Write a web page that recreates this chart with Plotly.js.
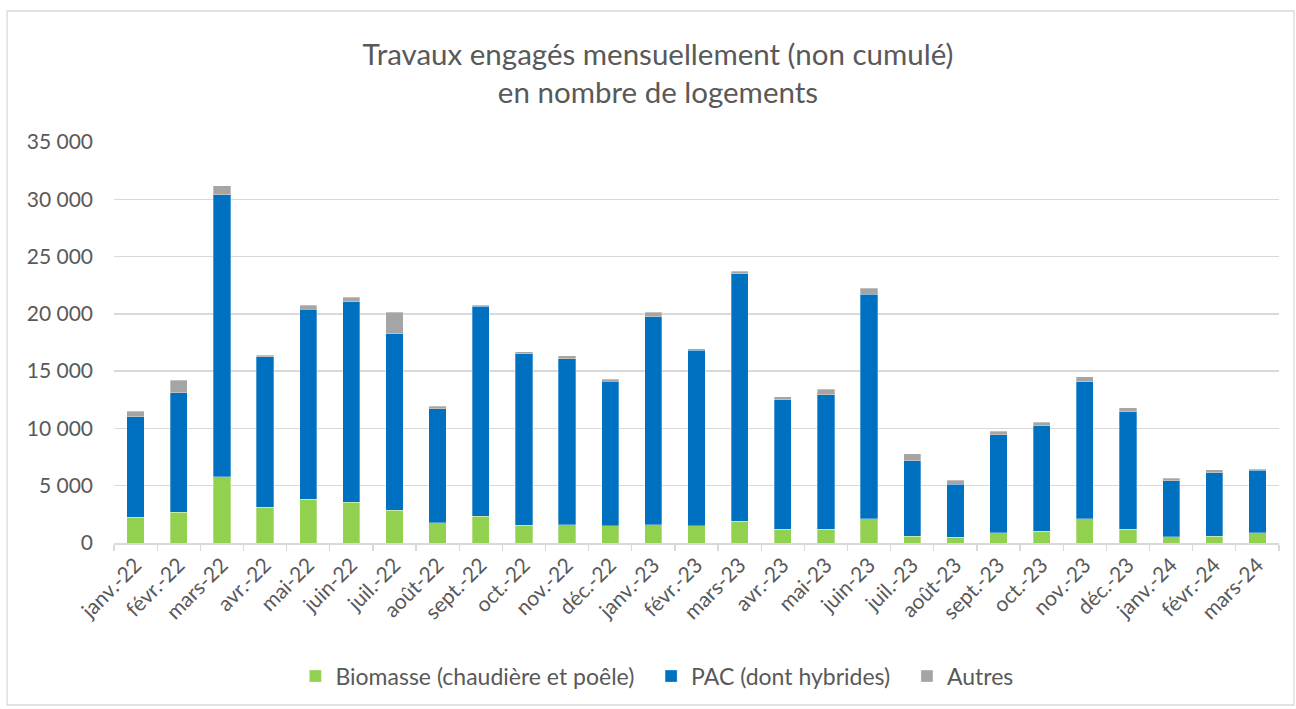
<!DOCTYPE html>
<html>
<head>
<meta charset="utf-8">
<script src="https://cdn.plot.ly/plotly-3.0.1.min.js"></script>
<style>
html,body{margin:0;padding:0;background:#fff;}
#chart{width:1296px;height:709px;}
</style>
</head>
<body>
<div id="chart"></div>
<script>
const months = ["janv.-22","févr.-22","mars-22","avr.-22","mai-22","juin-22","juil.-22","août-22","sept.-22","oct.-22","nov.-22","déc.-22",
  "janv.-23","févr.-23","mars-23","avr.-23","mai-23","juin-23","juil.-23","août-23","sept.-23","oct.-23","nov.-23","déc.-23",
  "janv.-24","févr.-24","mars-24"];
const biomasse = [2250,2700,5800,3100,3800,3550,2850,1750,2350,1550,1600,1520,1600,1490,1900,1200,1200,2130,610,500,900,1020,2100,1200,550,580,900];
const pac      = [8750,10400,24600,13150,16600,17500,15400,9970,18300,14950,14500,12600,18150,15350,21600,11300,11750,19560,6560,4630,8540,9210,11980,10260,4870,5540,5450];
const autres   = [500,1100,800,150,350,380,1900,200,120,180,260,170,380,120,230,260,470,550,640,350,320,320,410,350,230,260,90];
const seriesNames = ["Biomasse (chaudière et poêle)","PAC (dont hybrides)","Autres"];
const seriesColors = ["#92D050","#0070C0","#A5A5A5"];
const yTicks = [0,5000,10000,15000,20000,25000,30000,35000];

const FONT = "Lato, 'Open Sans', sans-serif";
const TXT = "#595959";
const PAD = "\u00a0\u00a0";

const traces = [biomasse, pac, autres].map((vals, i) => ({
  type: "bar",
  name: seriesNames[i] + (i < 2 ? PAD : ""),
  x: months,
  y: vals,
  marker: {color: seriesColors[i], line: {color: "rgba(255,255,255,0.5)", width: 0.6}},
  hoverinfo: "x+y+name"
}));

const layout = {
  width: 1296, height: 709,
  paper_bgcolor: "#ffffff", plot_bgcolor: "#ffffff",
  separators: ", ",
  barmode: "stack",
  bargap: 0.6,
  margin: {l: 114, r: 17, t: 142, b: 166, pad: 0},
  font: {family: FONT, color: TXT, size: 21},
  title: {
    text: "Travaux engagés mensuellement (non cumulé)<br>en nombre de logements",
    font: {family: FONT, size: 29.5, color: TXT},
    x: 0.5077, xref: "container", xanchor: "center",
    y: 0.9083, yref: "container", yanchor: "middle"
  },
  xaxis: {
    type: "category",
    tickangle: -45,
    tickson: "boundaries",
    ticks: "outside", ticklen: 6, tickcolor: "#d9d9d9", tickwidth: 1.3,
    showline: true, linecolor: "#d9d9d9", linewidth: 1.5,
    showgrid: false,
    tickfont: {family: FONT, size: 21, color: TXT},
    automargin: false
  },
  yaxis: {
    range: [0, 35000],
    tickvals: yTicks,
    tickformat: ",d",
    showgrid: true, gridcolor: "#d9d9d9", gridwidth: 1.3,
    zeroline: false, showline: false, ticks: "",
    ticklabelstandoff: 20,
    tickfont: {family: FONT, size: 21, color: TXT},
    automargin: false
  },
  legend: {
    orientation: "h",
    x: 0.466, xanchor: "center", xref: "paper",
    y: -0.332, yanchor: "middle", yref: "paper",
    font: {family: FONT, size: 23, color: TXT},
    itemwidth: 30,
    traceorder: "normal",
    bgcolor: "rgba(0,0,0,0)"
  },
  shapes: [{
    type: "rect", xref: "paper", yref: "paper",
    x0: -0.0918, x1: 1.0129, y0: -0.404, y1: 1.3267,
    line: {color: "#d9d9d9", width: 1.3}, fillcolor: "rgba(0,0,0,0)", layer: "below"
  }],
  showlegend: true
};

Plotly.newPlot("chart", traces, layout, {displayModeBar: false, staticPlot: true});
</script>
</body>
</html>
